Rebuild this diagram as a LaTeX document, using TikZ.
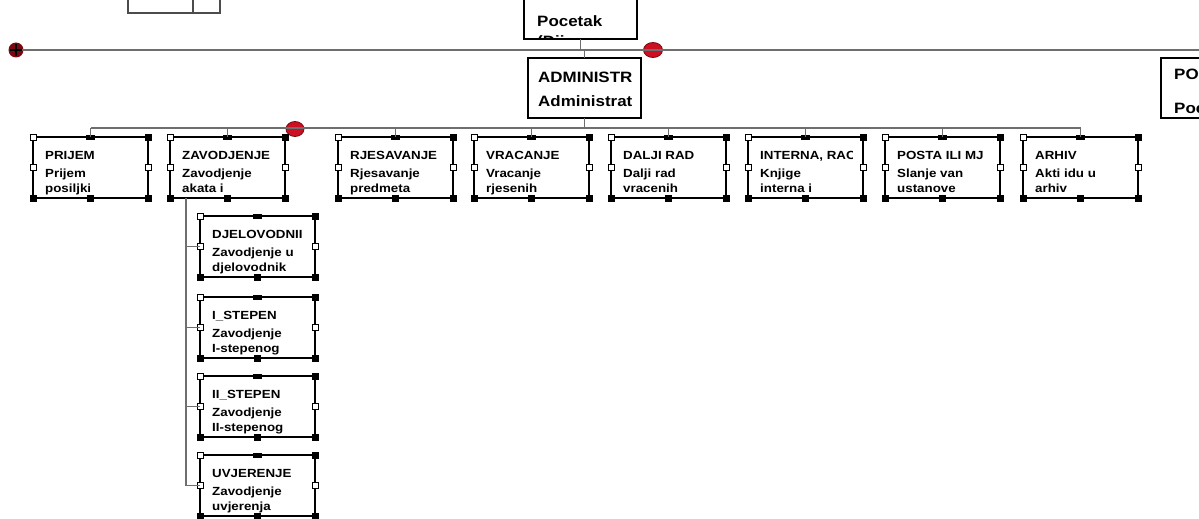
\documentclass[tikz,border=0pt]{standalone}
\usepackage{fontspec}
\newfontfamily\lblfont[FakeStretch=1.13]{Liberation Sans}
\definecolor{conncol}{HTML}{6E6E6E}
\definecolor{redc}{HTML}{CC0F22}
\definecolor{redd}{HTML}{7A0810}
\tikzset{
 conn/.style={draw=conncol, line width=1.4pt},
 cb/.style={draw=black, fill=white, line width=1.6pt, minimum width=115pt, minimum height=61pt, inner sep=0pt, outer sep=0pt, anchor=north west},
 bb/.style={draw=black, fill=white, line width=1.8pt, inner sep=0pt, outer sep=0pt, anchor=north west},
 tx/.style={font=\lblfont\bfseries\fontsize{11.8}{13}\selectfont, inner sep=0pt, anchor=base west},
 btx/.style={font=\lblfont\bfseries\fontsize{15}{17}\selectfont, inner sep=0pt, anchor=base west},
}
\newcommand\hwht[2]{\filldraw[fill=white,draw=black,line width=0.9pt] (#1-3,#2-3) rectangle (#1+3,#2+3);}
\newcommand\hblk[2]{\fill[black] (#1-3.5,#2-3.5) rectangle (#1+3.5,#2+3.5);}
\newcommand\cbox[6]{%
 \node[cb] (#1) at (#2,#3) {};
 \begin{scope}
  \clip (#2,#3) rectangle (#2+104,#3+61);
  \node[tx] (#1-a) at (#2+12,#3+22) {#4};
  \node[tx] (#1-b) at (#2+12,#3+40) {#5};
  \node[tx] (#1-c) at (#2+12,#3+55) {#6};
 \end{scope}
 \hwht{#2}{#3}
 \hblk{#2+115}{#3}
 \hwht{#2}{#3+30.5}
 \hwht{#2+115}{#3+30.5}
 \hblk{#2}{#3+61}
 \hblk{#2+57.5}{#3+61}
 \hblk{#2+115}{#3+61}
 \fill[black] (#2+57.5-4.5,#3-2.5) rectangle (#2+57.5+4.5,#3+2.5);
}
\begin{document}
\begin{tikzpicture}[x=1pt,y=-1pt]
\clip (0,0) rectangle (1199,519);
\fill[white] (0,0) rectangle (1199,519);

% partial box at top left
\draw[draw=gray!60!black, line width=1.2pt] (128,-5) rectangle (220,13);
\draw[draw=gray!60!black, line width=1.2pt] (193,-5) -- (193,13);

% red markers
\fill[redd] (16,50) circle (7.5pt);
\draw[black, line width=2.2pt] (10,50) -- (22,50) (16,44) -- (16,56);
\filldraw[fill=redc, draw=redd, line width=0.8pt] (653,50) ellipse [x radius=9.5pt, y radius=7.5pt];
\filldraw[fill=redc, draw=redd, line width=0.8pt] (295,129) ellipse [x radius=9pt, y radius=7.5pt];

% top line
\coordinate (lft) at (22,50);
\coordinate (rgt) at (1199,50);
\draw[conn] (lft) -- (rgt);

% Pocetak box
\node[bb, minimum width=113pt, minimum height=70pt] (pocetak) at (524,-31) {};
\begin{scope}
 \clip (525,-31) rectangle (627,38);
 \node[btx] (pocetak-a) at (537,27) {Pocetak};
 \node[btx] (pocetak-b) at (537,47) {(Dijagram};
\end{scope}

% Administracija box
\node[bb, minimum width=113pt, minimum height=60pt] (admin) at (528,58) {};
\begin{scope}
 \clip (529,58) rectangle (631,118);
 \node[btx] (admin-a) at (538,82) {ADMINISTR};
 \node[btx] (admin-b) at (538,106) {Administrat};
\end{scope}

% POC box at right edge
\node[bb, minimum width=80pt, minimum height=60pt] (poc) at (1161,58) {};
\node[btx] (poc-a) at (1174,79) {POC};
\node[btx] (poc-b) at (1174,113) {Poc};

\draw[conn] (pocetak.south) -- (pocetak.south |- lft);
\draw[conn] (admin.north |- lft) -- (admin.north);

% bus to children
\coordinate (busL) at (90.5,128);
\coordinate (busR) at (1080.5,128);
\draw[conn] (busL) -- (busR);
\draw[conn] (admin.south) -- (admin.south |- busL);

\cbox{prijem}{33}{137}{PRIJEM}{Prijem}{posiljki}
\cbox{zav}{170}{137}{ZAVODJENJE}{Zavodjenje}{akata i}
\cbox{rjes}{338}{137}{RJESAVANJE}{Rjesavanje}{predmeta}
\cbox{vrac}{474}{137}{VRACANJE}{Vracanje}{rjesenih}
\cbox{dalji}{611}{137}{DALJI RAD}{Dalji rad}{vracenih}
\cbox{intr}{748}{137}{INTERNA, RAC}{Knjige}{interna i}
\cbox{posta}{885}{137}{POSTA ILI MJ}{Slanje van}{ustanove}
\cbox{arhiv}{1023}{137}{ARHIV}{Akti idu u}{arhiv}

\foreach \n in {prijem,zav,rjes,vrac,dalji,intr,posta,arhiv}
 \draw[conn] (\n.north |- busL) -- (\n.north);

% sub-boxes of ZAVODJENJE
\cbox{djel}{200}{216}{DJELOVODNII}{Zavodjenje u}{djelovodnik}
\cbox{istep}{200}{297}{I\_STEPEN}{Zavodjenje}{I-stepenog}
\cbox{iistep}{200}{376}{II\_STEPEN}{Zavodjenje}{II-stepenog}
\cbox{uvj}{200}{455}{UVJERENJE}{Zavodjenje}{uvjerenja}

\coordinate (trk) at (186,198);
\draw[conn] (trk) -- (trk |- uvj.west);
\foreach \n in {djel,istep,iistep,uvj}
 \draw[conn] (trk |- \n.west) -- (\n.west);
\end{tikzpicture}
\end{document}
